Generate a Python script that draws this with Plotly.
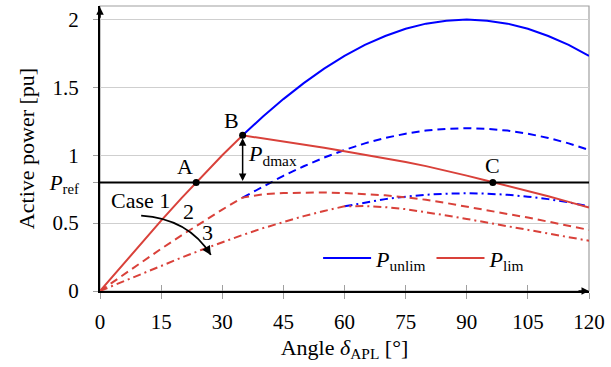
import plotly.graph_objects as go

# ---- data ----
delta = [0, 5, 10, 15, 20, 25, 30, 35, 40, 45, 50, 55, 60, 65, 70, 75, 80, 85, 90, 95, 100, 105, 110, 115, 120]

# unlimited power curves (blue); shown from the point where they separate from the limited ones
unlim_case1 = [None, None, None, None, None, None, None, 1.147, 1.286, 1.414, 1.532, 1.638, 1.732, 1.813, 1.879,
               1.932, 1.970, 1.992, 2.000, 1.992, 1.970, 1.932, 1.879, 1.813, 1.732]
unlim_case2 = [None, None, None, None, None, None, None, 0.688, 0.771, 0.849, 0.919, 0.983, 1.039, 1.088, 1.128,
               1.159, 1.182, 1.195, 1.200, 1.195, 1.182, 1.159, 1.128, 1.088, 1.039]
unlim_case3 = [None, None, None, None, None, None, None, None, None, None, None, None, 0.624, 0.653, 0.677,
               0.695, 0.709, 0.717, 0.720, 0.717, 0.709, 0.695, 0.677, 0.653, 0.624]

# limited power curves (red)
lim_case1 = [0, 0.174, 0.347, 0.518, 0.684, 0.845, 1.000, 1.147, 1.125, 1.103, 1.080, 1.055, 1.030, 1.005, 0.978,
             0.950, 0.920, 0.887, 0.850, 0.812, 0.775, 0.737, 0.698, 0.657, 0.615]
lim_case2 = [0, 0.105, 0.208, 0.311, 0.410, 0.507, 0.600, 0.688, 0.712, 0.722, 0.726, 0.726, 0.722, 0.715, 0.705,
             0.690, 0.672, 0.648, 0.622, 0.597, 0.570, 0.541, 0.511, 0.481, 0.450]
lim_case3 = [0, 0.063, 0.125, 0.186, 0.246, 0.304, 0.360, 0.413, 0.463, 0.509, 0.552, 0.590, 0.624, 0.626, 0.618,
             0.603, 0.582, 0.557, 0.531, 0.505, 0.478, 0.451, 0.424, 0.397, 0.370]

p_ref = 0.8
pt_labels = ["A", "B", "C"]
pt_x = [23.6, 35.0, 96.4]
pt_y = [0.8, 1.147, 0.8]

x_ticks = [0, 15, 30, 45, 60, 75, 90, 105, 120]
y_ticks = [0, 0.5, 0.8, 1, 1.5, 2]
y_ticktext = ["0", "0.5", "<i>P</i><sub>ref</sub>", "1", "1.5", "2"]

case_labels = ["Case 1", "2", "3"]
case_x = [10.0, 21.7, 26.5]
case_y = [0.665, 0.585, 0.43]
case_arrow = [(10.1, 0.556), (21.7, 0.534), (27.2, 0.266)]  # start, control, end

BLUE = "#0000ff"
RED = "#d9413a"
FONT = "'Liberation Serif', 'Times New Roman', serif"
FS = 22
FS_TICK = 21

fig = go.Figure()

# P_ref line
fig.add_trace(go.Scatter(x=[0, 120], y=[p_ref, p_ref], mode="lines", line=dict(color="black", width=2),
                         showlegend=False, hoverinfo="skip", xaxis="x2"))

dash_d = "8px,5px"
dash_dd = "8px,4px,2px,4px"
fig.add_trace(go.Scatter(x=delta, y=unlim_case3, mode="lines", line=dict(color=BLUE, width=2, dash=dash_dd),
                         showlegend=False))
fig.add_trace(go.Scatter(x=delta, y=unlim_case2, mode="lines", line=dict(color=BLUE, width=2, dash=dash_d),
                         showlegend=False))
fig.add_trace(go.Scatter(x=delta, y=unlim_case1, mode="lines", line=dict(color=BLUE, width=2),
                         name="<i>P</i><sub>unlim</sub>"))
fig.add_trace(go.Scatter(x=delta, y=lim_case3, mode="lines", line=dict(color=RED, width=2, dash=dash_dd),
                         showlegend=False))
fig.add_trace(go.Scatter(x=delta, y=lim_case2, mode="lines", line=dict(color=RED, width=2, dash=dash_d),
                         showlegend=False))
fig.add_trace(go.Scatter(x=delta, y=lim_case1, mode="lines", line=dict(color=RED, width=2),
                         name="<i>P</i><sub>lim</sub>"))

# points A, B, C
fig.add_trace(go.Scatter(x=pt_x, y=pt_y, mode="markers", marker=dict(color="black", size=7),
                         showlegend=False))

annotations = []
# point labels
annotations.append(dict(x=pt_x[0], y=pt_y[0], text=pt_labels[0], showarrow=False, xanchor="right",
                        yanchor="bottom", xshift=-1, yshift=1))
annotations.append(dict(x=pt_x[1], y=pt_y[1], text=pt_labels[1], showarrow=False, xanchor="right",
                        yanchor="bottom", xshift=-2, yshift=0))
annotations.append(dict(x=pt_x[2], y=pt_y[2], text=pt_labels[2], showarrow=False, xanchor="center",
                        yanchor="bottom", yshift=2))
# P_dmax double arrow
annotations.append(dict(x=pt_x[1], y=pt_y[1], ax=pt_x[1], ay=p_ref, axref="x", ayref="y", xref="x", yref="y",
                        text="", showarrow=True, arrowside="end+start", arrowhead=2, startarrowhead=2,
                        arrowsize=1, startarrowsize=1, arrowwidth=1.5, arrowcolor="black",
                        standoff=3, startstandoff=0))
annotations.append(dict(x=35.8, y=1.0, text="<i>P</i><sub>dmax</sub>", showarrow=False, xanchor="left",
                        yanchor="middle"))
# case labels
for t, cx, cy in zip(case_labels, case_x, case_y):
    annotations.append(dict(x=cx, y=cy, text=t, showarrow=False, xanchor="center", yanchor="middle"))
# arrow head for the curved case arrow
(sx, sy), (qx, qy), (ex, ey) = case_arrow
annotations.append(dict(x=ex, y=ey, ax=-5, ay=-8, text="", showarrow=True, arrowhead=2, arrowsize=1.2,
                        arrowwidth=1.5, arrowcolor="black", standoff=0))
# axis arrows
annotations.append(dict(x=120, y=0, ax=-12, ay=0, text="", showarrow=True, arrowhead=2, arrowsize=1,
                        arrowwidth=1.5, arrowcolor="black", standoff=0))
annotations.append(dict(x=0, y=2.09, ax=0, ay=12, text="", showarrow=True, arrowhead=2, arrowsize=1,
                        arrowwidth=1.5, arrowcolor="black", standoff=0))

shapes = [
    dict(type="rect", xref="paper", yref="paper", x0=0, y0=0, x1=1, y1=1,
         line=dict(color="#a0a0a0", width=1.2), layer="below"),
    dict(type="path", xref="x", yref="y", path=f"M {sx},{sy} Q {qx},{qy} {ex},{ey}",
         line=dict(color="black", width=1.8)),
]

fig.update_layout(
    width=611, height=367,
    margin=dict(l=100, r=18, t=6, b=76),
    paper_bgcolor="white", plot_bgcolor="white",
    font=dict(family=FONT, size=FS, color="black"),
    showlegend=True,
    legend=dict(orientation="h", x=0.446, y=0.115, xanchor="left", yanchor="middle",
                bgcolor="rgba(0,0,0,0)", font=dict(family=FONT, size=FS), itemwidth=48,
                tracegroupgap=0),
    xaxis=dict(range=[0, 120], tickvals=x_ticks, showgrid=False, zeroline=False,
               showline=True, linecolor="black", linewidth=2,
               ticks="outside", ticklen=6, tickcolor="#a0a0a0", tickwidth=1,
               ticklabelstandoff=5, ticklabeloverflow="allow",
               tickfont=dict(size=FS_TICK),
               title=dict(text="Angle <i>δ</i><sub>APL</sub> [°]", standoff=6, font=dict(size=FS))),
    xaxis2=dict(range=[0, 120], overlaying="x", matches="x", anchor="y", side="bottom",
                tickvals=x_ticks, showticklabels=False, ticks="inside", ticklen=6,
                tickcolor="#a0a0a0", tickwidth=1, showgrid=False, zeroline=False, showline=False),
    yaxis=dict(range=[0, 2.1], tickvals=y_ticks, ticktext=y_ticktext, showgrid=True,
               gridcolor="#cfcfcf", gridwidth=1, zeroline=False,
               showline=True, linecolor="black", linewidth=2,
               ticks="outside", ticklen=5, tickcolor="#a0a0a0", tickwidth=1,
               ticklabelstandoff=10, tickfont=dict(size=FS_TICK),
               title=dict(text="Active power [pu]", standoff=8, font=dict(size=FS))),
    annotations=annotations,
    shapes=shapes,
)

fig.write_html("out.html")
